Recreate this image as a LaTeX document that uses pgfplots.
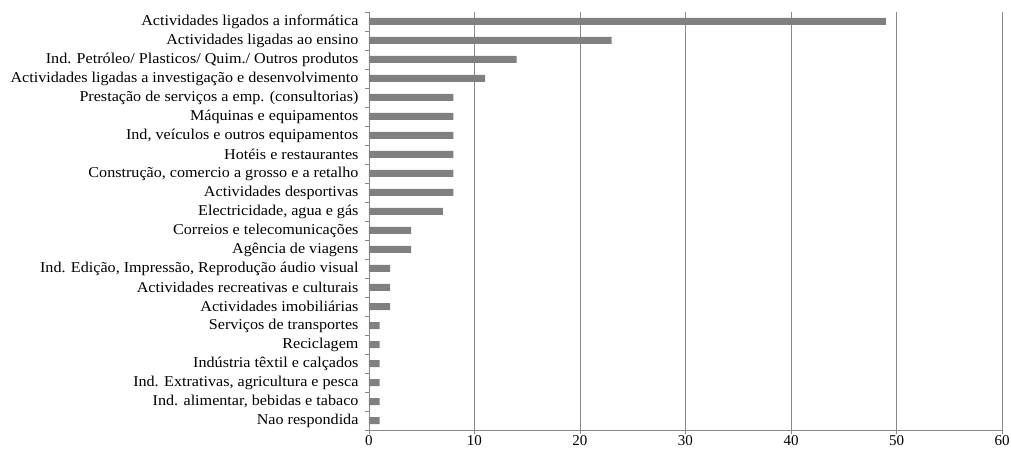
\documentclass[border=0pt]{standalone}
\usepackage{fontspec}
\setmainfont{Liberation Serif}
\newfontfamily\labelfont{Liberation Serif}[FakeStretch=1.075]
\usepackage{pgfplots}
\pgfplotsset{compat=1.18}
\definecolor{barc}{HTML}{808080}
\definecolor{gridc}{HTML}{888888}
\pgfplotstableread{
y v
0 1
1 1
2 1
3 1
4 1
5 1
6 2
7 2
8 2
9 4
10 4
11 7
12 8
13 8
14 8
15 8
16 8
17 8
18 11
19 14
20 23
21 49
}\datatab
\begin{document}
\begin{tikzpicture}
\begin{axis}[
  scale only axis, width=633pt, height=418pt,
  xbar, bar width=7pt,
  xmin=0, xmax=60, ymin=-0.5, ymax=21.5,
  axis lines=left,
  axis line style={gridc, line width=0.8pt, -},
  xtick={0,10,...,60},
  ytick={0,...,21},
  minor ytick={-0.5,0.5,...,21.5},
  yticklabels={Nao respondida, {Ind. alimentar, bebidas e tabaco}, {Ind. Extrativas, agricultura e pesca}, Indústria têxtil e calçados, Reciclagem, Serviços de transportes, Actividades imobiliárias, Actividades recreativas e culturais, {Ind. Edição, Impressão, Reprodução áudio visual}, Agência de viagens, Correios e telecomunicações, {Electricidade, agua e gás}, Actividades desportivas, {Construção, comercio a grosso e a retalho}, Hotéis e restaurantes, {Ind, veículos e outros equipamentos}, Máquinas e equipamentos, Prestação de serviços a emp. (consultorias), Actividades ligadas a investigação e desenvolvimento, Ind. Petróleo/ Plasticos/ Quim./ Outros produtos, Actividades ligadas ao ensino, Actividades ligados a informática},
  tick align=outside,
  major tick length=4pt,
  minor tick length=4pt,
  every major y tick/.append style={draw=none},
  tick style={gridc, line width=0.8pt},
  xmajorgrids, grid style={gridc, line width=0.8pt},
  xticklabel style={font=\fontsize{15}{17}\selectfont, yshift=2pt},
  yticklabel style={font=\labelfont\fontsize{15}{17}\selectfont, xshift=-3pt},
  /pgf/number format/assume math mode=true,
  clip=false,
]
\addplot[fill=barc, draw=none] table[x=v, y=y] {\datatab};
\end{axis}
\pgfresetboundingbox
\path[use as bounding box] (-369pt,-25pt) rectangle (642pt,430pt);
\end{tikzpicture}
\end{document}
